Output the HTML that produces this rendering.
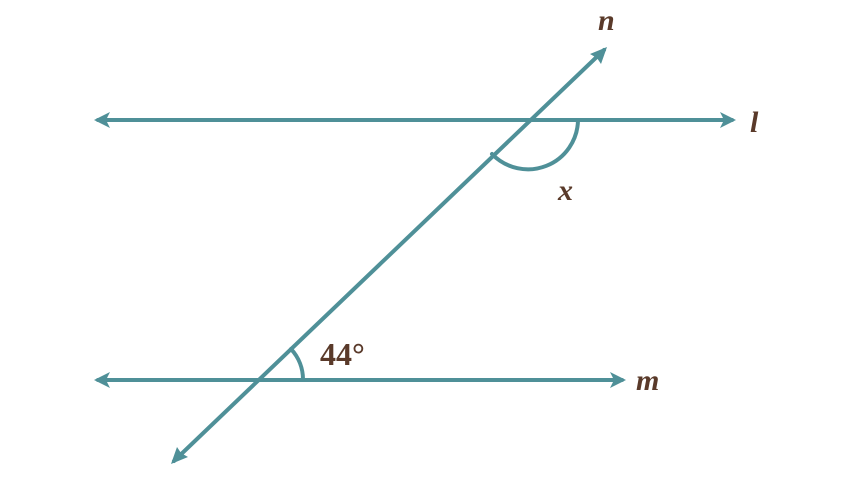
<!DOCTYPE html>
<html><head><style>body{margin:0;background:#fff}svg{display:block}</style></head><body>
<svg width="853" height="480" viewBox="0 0 853 480" xmlns="http://www.w3.org/2000/svg">
<g stroke="#4f9098" stroke-width="4" fill="none" stroke-linecap="round">
<line x1="98" y1="120" x2="732" y2="120"/>
<line x1="98" y1="380" x2="622" y2="380"/>
<line x1="174" y1="461" x2="604" y2="50"/>
<path d="M578 120 A50 50 0 0 1 492 154"/>
<path d="M303 380 A45 45 0 0 0 291 349"/>
</g>
<g fill="#4f9098">
<polygon points="94,120 110,112 106,120 110,128"/>
<polygon points="736,120 720,112 724,120 720,128"/>
<polygon points="94,380 110,372 106,380 110,388"/>
<polygon points="626,380 610,372 614,380 610,388"/>
<polygon points="607,47 601,64 597,58 590,54"/>
<polygon points="171,464 177,447 181,453 188,457"/>
</g>
<g font-family="Liberation Serif, serif" font-style="italic" font-weight="bold" fill="#5a3a2a" font-size="30">
<text x="598" y="30">n</text>
<text x="750" y="132">l</text>
<text x="558" y="200">x</text>
<text x="636" y="390">m</text>
</g>
<text x="320" y="365" font-family="Liberation Serif, serif" font-weight="bold" font-size="32" fill="#5a3a2a">44°</text>
</svg>
</body></html>
